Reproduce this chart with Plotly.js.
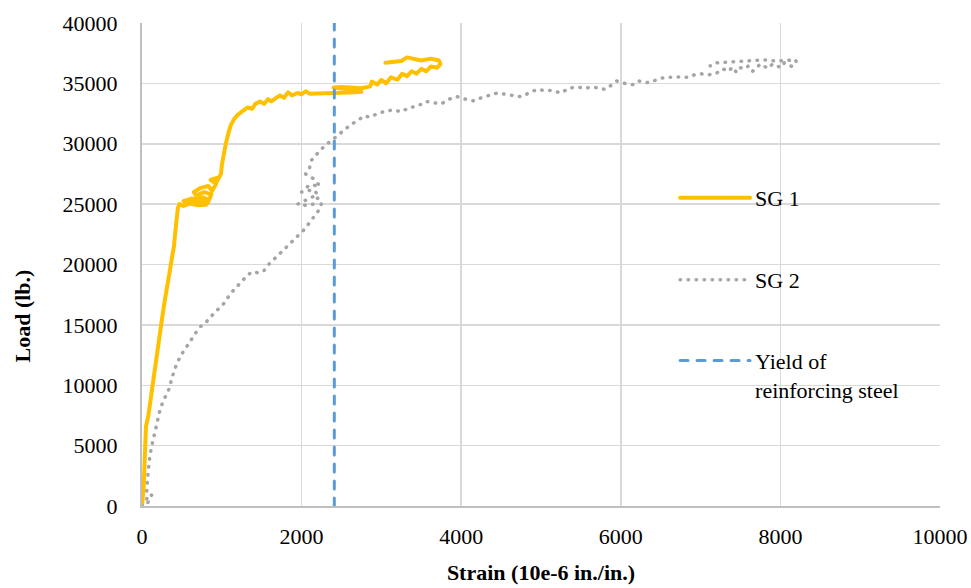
<!DOCTYPE html>
<html>
<head>
<meta charset="utf-8">
<script src="https://cdn.plot.ly/plotly-3.0.1.min.js"></script>
<style>
  html, body { margin: 0; padding: 0; background: #ffffff; }
  #chart { width: 971px; height: 588px; }
  #chart .js-line, #chart .legendlines path { stroke-linecap: round !important; stroke-linejoin: round !important; }
</style>
</head>
<body>
<div id="chart"></div>
<script>
// ---- Data ----
const sg1Strain = [0, 20, 35, 50, 80, 120, 160, 200, 240, 280, 320, 360, 400, 430, 450, 470, 520, 600, 700, 800, 830, 700, 560, 520, 620, 760, 840, 870, 780, 680, 650, 740, 830, 880, 930, 860, 950, 930, 990, 1000, 1020, 1050, 1080, 1110, 1150, 1200, 1260, 1320, 1380, 1420, 1480, 1530, 1580, 1620, 1680, 1730, 1780, 1830, 1880, 1950, 2000, 2050, 2100, 2200, 2400, 2600, 2750, 2700, 2500, 2400, 2500, 2750, 2860, 2880, 2950, 3000, 3060, 3120, 3200, 3260, 3320, 3380, 3440, 3500, 3560, 3620, 3700, 3740, 3720, 3620, 3500, 3400, 3320, 3250, 3100, 3050];
const sg1Load   = [0, 1500, 4000, 6600, 7500, 9500, 11500, 13500, 15000, 16800, 18500, 19800, 21500, 23500, 24700, 25000, 24850, 25050, 24900, 24950, 25150, 25250, 25100, 25250, 25450, 25550, 25350, 25800, 26000, 25700, 26000, 26350, 26500, 26100, 26700, 27000, 27200, 26800, 27500, 28200, 29000, 30000, 30800, 31500, 32000, 32400, 32700, 33000, 32900, 33300, 33500, 33300, 33700, 33500, 33800, 34000, 33800, 34250, 34000, 34200, 34100, 34350, 34150, 34150, 34200, 34250, 34300, 34450, 34550, 34650, 34700, 34600, 34750, 35150, 34900, 35300, 35000, 35500, 35300, 35800, 35600, 36000, 35800, 36200, 36000, 36400, 36300, 36600, 36900, 37050, 36900, 37000, 37150, 36850, 36750, 36700];

const sg2Strain = [0, 50, 100, 120, 60, 60, 80, 100, 130, 170, 220, 260, 300, 340, 380, 420, 480, 540, 600, 680, 740, 800, 880, 950, 1030, 1110, 1180, 1260, 1320, 1380, 1460, 1530, 1600, 1680, 1740, 1800, 1870, 1950, 2020, 2080, 2140, 2200, 2240, 2250, 2200, 2150, 2050, 1950, 2050, 2200, 2150, 2000, 2100, 2230, 2150, 2050, 2100, 2120, 2170, 2240, 2300, 2380, 2450, 2530, 2620, 2700, 2780, 2860, 2950, 3050, 3150, 3250, 3350, 3450, 3560, 3650, 3750, 3850, 3950, 4050, 4150, 4250, 4350, 4450, 4550, 4650, 4750, 4850, 4950, 5050, 5150, 5250, 5350, 5450, 5550, 5650, 5800, 5870, 5950, 6050, 6150, 6220, 6350, 6450, 6550, 6650, 6750, 6850, 6920, 7000, 7100, 7200, 7280, 7350, 7400, 7450, 7500, 7550, 7600, 7650, 7700, 7750, 7800, 7850, 7900, 7950, 8000, 8050, 8100, 8150, 8200, 8180, 8100, 7950, 7800, 7600, 7400, 7200, 7120];
const sg2Load   = [0, 0, 600, 900, 500, 1500, 3000, 4200, 5200, 6500, 7800, 8600, 9200, 9700, 10700, 11500, 12400, 13000, 13700, 14400, 14900, 15200, 15800, 16300, 16800, 17600, 18100, 18700, 19100, 19400, 19300, 19500, 20100, 20600, 21000, 21400, 21800, 22300, 22800, 23300, 23800, 24300, 24700, 25200, 25500, 25000, 24900, 25000, 25300, 25800, 26200, 26000, 26600, 26500, 27100, 27500, 28000, 28600, 29000, 29500, 29900, 30300, 30700, 31100, 31600, 31900, 32300, 32200, 32500, 32700, 32800, 32650, 33000, 33100, 33500, 33400, 33300, 33700, 33900, 33700, 33550, 33800, 34000, 34200, 34100, 34000, 33900, 34200, 34500, 34400, 34400, 34200, 34600, 34700, 34600, 34700, 34500, 34800, 35200, 35000, 34900, 35200, 35050, 35300, 35500, 35500, 35550, 35500, 35700, 35800, 35700, 35850, 36200, 36000, 36350, 35900, 36300, 36200, 36450, 36000, 36300, 36600, 36400, 36250, 36600, 36500, 36300, 36700, 36500, 36400, 36800, 37000, 36900, 36850, 36950, 36850, 36750, 36700, 36450];

const yieldStrain = [2410, 2410];
const yieldLoad   = [0, 40000];

const xTicks = [0, 2000, 4000, 6000, 8000, 10000];
const yTicks = [0, 5000, 10000, 15000, 20000, 25000, 30000, 35000, 40000];

const seriesNames = ["SG 1", "SG 2", "Yield of<br>reinforcing steel"];
const xTitle = "Strain (10e-6 in./in.)";
const yTitle = "Load (lb.)";

// ---- Chart ----
const FONT = "'Liberation Serif', 'Times New Roman', serif";

const traces = [
  {
    x: sg1Strain, y: sg1Load, type: "scatter", mode: "lines",
    name: seriesNames[0], legend: "legend",
    line: { color: "#FFC000", width: 4 }
  },
  {
    x: sg2Strain, y: sg2Load, type: "scatter", mode: "lines",
    name: seriesNames[1], legend: "legend2",
    line: { color: "#A5A5A5", width: 3.5, dash: "0.5px,7.5px" }
  },
  {
    x: yieldStrain, y: yieldLoad, type: "scatter", mode: "lines",
    name: seriesNames[2], legend: "legend3",
    line: { color: "#5B9BD5", width: 3, dash: "8px,9px" }
  }
];

const legendBase = {
  xanchor: "left", yanchor: "middle",
  bgcolor: "rgba(0,0,0,0)", borderwidth: 0,
  font: { family: FONT, size: 22, color: "#000000" },
  valign: "top", itemwidth: 70
};

const layout = {
  width: 971, height: 588,
  margin: { l: 142, r: 31, t: 23, b: 82 },
  paper_bgcolor: "#ffffff", plot_bgcolor: "#ffffff",
  font: { family: FONT, size: 22, color: "#000000" },
  showlegend: true,
  legend:  Object.assign({}, legendBase, { x: 0.668, y: 0.638 }),
  legend2: Object.assign({}, legendBase, { x: 0.668, y: 0.468 }),
  legend3: Object.assign({}, legendBase, { x: 0.668, y: 0.271 }),
  xaxis: {
    range: [0, 10000], tickvals: xTicks, ticktext: xTicks.map(String),
    showgrid: true, gridcolor: "#D9D9D9", gridwidth: 1.5,
    showline: true, linecolor: "#BFBFBF", linewidth: 2,
    zeroline: false, ticks: "", ticklabelstandoff: 10,
    tickfont: { family: FONT, size: 22, color: "#000000" },
    title: { text: xTitle, standoff: 16, font: { family: FONT, size: 22, color: "#000000", weight: "bold" } },
    fixedrange: true
  },
  yaxis: {
    range: [0, 40000], tickvals: yTicks, ticktext: yTicks.map(String),
    showgrid: true, gridcolor: "#D9D9D9", gridwidth: 1.5,
    showline: true, linecolor: "#BFBFBF", linewidth: 2,
    zeroline: false, ticks: "", ticklabelstandoff: 18,
    tickfont: { family: FONT, size: 22, color: "#000000" },
    fixedrange: true
  },
  annotations: [
    {
      text: yTitle, xref: "paper", yref: "paper",
      x: -0.150, y: 0.393, xanchor: "center", yanchor: "middle",
      textangle: -90, showarrow: false,
      font: { family: FONT, size: 22, color: "#000000", weight: "bold" }
    }
  ]
};

Plotly.newPlot("chart", traces, layout, { displayModeBar: false, staticPlot: true });
</script>
</body>
</html>
